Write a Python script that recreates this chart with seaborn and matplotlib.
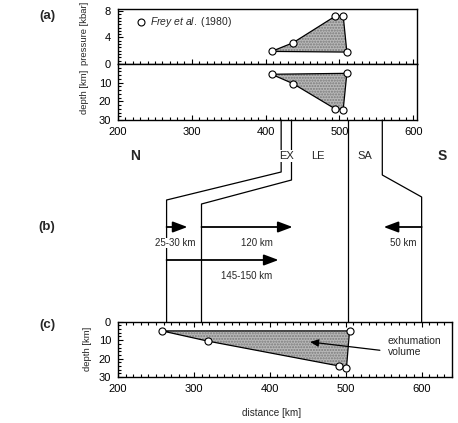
import matplotlib
matplotlib.use("Agg")
import matplotlib.pyplot as plt
from matplotlib.ticker import MultipleLocator
import seaborn as sns
import pandas as pd

# ---------------- data ----------------
# (a) present-day positions of samples (Frey et al. 1980)
a_dist = [408, 437, 494, 505, 510]
a_pressure = [1.9, 3.2, 7.2, 7.3, 1.8]
a_depth = [5.5, 10.5, 24.0, 24.5, 5.0]
# (c) restored positions
c_dist = [258, 318, 491, 501, 505]
c_depth = [5.0, 10.5, 24.0, 25.0, 5.0]
# boundaries in (a) and in (c) [km]
a_bounds = [421, 435, 512, 558]
c_bounds = [264, 310, 505, 600]
# (b) displacements: label, start [km], signed length [km], row
moves_label = ["25-30 km", "120 km", "50 km", "145-150 km"]
moves_start = [264, 310, 600, 264]
moves_len = [27.5, 120, -50, 147.5]
moves_row = [0, 0, 0, 1]
xticks = [200, 300, 400, 500, 600]

sns.set_theme(style="ticks")
plt.rcParams["font.family"] = ["Liberation Sans", "DejaVu Sans"]
plt.rcParams["mathtext.fontset"] = "custom"
plt.rcParams["mathtext.rm"] = "Liberation Sans"
plt.rcParams["mathtext.it"] = "Liberation Sans:italic"

W, H = 458, 423
fig = plt.figure(figsize=(W / 100, H / 100), dpi=100)
fig.patch.set_facecolor("white")


def box(l, t, r, b):
    return [l / W, 1 - b / H, (r - l) / W, (b - t) / H]


ax_p = fig.add_axes(box(118, 9, 417, 64))
ax_d = fig.add_axes(box(118, 64, 417, 120))
ax_c = fig.add_axes(box(118, 321.7, 452, 377))

FILL = "#b8b8b8"


def style(ax):
    for s in ax.spines.values():
        s.set_color("black")
        s.set_linewidth(1.0)
    ax.tick_params(which="both", direction="in", colors="black",
                   labelsize=8, width=0.8)
    ax.tick_params(axis="y", which="both", pad=5)
    ax.tick_params(axis="x", which="both", pad=5)
    ax.tick_params(which="major", length=3.5)
    ax.tick_params(which="minor", length=2)
    ax.xaxis.set_minor_locator(MultipleLocator(10))
    ax.set_facecolor("white")
    ax.grid(False)


def sample_poly(ax, xs, ys):
    ax.fill(xs, ys, facecolor=FILL, edgecolor="#7a7a7a", hatch="......",
            linewidth=0, zorder=1)
    ax.plot(xs + xs[:1], ys + ys[:1], color="black", lw=0.9, zorder=2)
    df = pd.DataFrame({"x": xs, "y": ys})
    sns.scatterplot(data=df, x="x", y="y", ax=ax, marker="o", s=26,
                    facecolor="white", edgecolor="black", linewidth=0.8,
                    zorder=3, legend=False)


# ---- (a) pressure ----
style(ax_p)
sample_poly(ax_p, a_dist, a_pressure)
ax_p.set_xlim(200, 605)
ax_p.set_ylim(0, 8.3)
ax_p.set_yticks([0, 4, 8])
ax_p.yaxis.set_minor_locator(MultipleLocator(0.5))
ax_p.set_xticks(xticks)
ax_p.set_xticklabels([])
ax_p.set_xlabel("")
ax_p.set_ylabel("pressure [kbar]", fontsize=6.8)
ax_p.yaxis.set_label_coords(-0.098, 0.55)
leg_handle = ax_p.plot([], [], "o", mfc="white", mec="black", ms=5, mew=0.8)[0]
ax_p.legend([leg_handle], [r"$\it{Frey\ et\ al.}$ (1980)"], loc="upper left",
            frameon=False, fontsize=7.5, handletextpad=0.3,
            borderaxespad=0.2, bbox_to_anchor=(0.035, 1.0), handlelength=1.2)

# ---- (a) depth ----
style(ax_d)
sample_poly(ax_d, a_dist, a_depth)
ax_d.set_xlim(200, 605)
ax_d.set_ylim(30, 0)
ax_d.set_yticks([10, 20, 30])
ax_d.yaxis.set_minor_locator(MultipleLocator(2))
ax_d.set_xticks(xticks)
ax_d.set_xlabel("")
ax_d.set_ylabel("depth [km]", fontsize=6.8)
ax_d.yaxis.set_label_coords(-0.098, 0.5)

# ---- (c) ----
style(ax_c)
sample_poly(ax_c, c_dist, c_depth)
ax_c.set_xlim(200, 640)
ax_c.set_ylim(30, 0)
ax_c.set_yticks([0, 10, 20, 30])
ax_c.yaxis.set_minor_locator(MultipleLocator(2))
ax_c.set_xticks(xticks)
ax_c.tick_params(which="both", top=True)
ax_c.set_xlabel("distance [km]", fontsize=7.2)
ax_c.xaxis.set_label_coords(0.46, -0.56)
ax_c.set_ylabel("depth [km]", fontsize=6.8)
ax_c.yaxis.set_label_coords(-0.078, 0.5)
ax_c.annotate("", xy=(453, 11), xytext=(545, 15.5),
              arrowprops=dict(arrowstyle="-|>,head_length=0.5,head_width=0.22",
                              color="black", lw=0.9, mutation_scale=10,
                              shrinkA=0, shrinkB=0))
ax_c.text(555, 8.0, "exhumation\nvolume", fontsize=7.5, ha="left", va="top",
          linespacing=1.1)

# ---------------- overlay (pixel coordinates) ----------------
ov = fig.add_axes([0, 0, 1, 1], zorder=5)
ov.set_xlim(0, W)
ov.set_ylim(H, 0)
ov.axis("off")
ov.patch.set_alpha(0)
fig.canvas.draw()


def px(ax, x):
    disp = ax.transData.transform((x, 0))
    return ov.transData.inverted().transform(disp)[0]


y_top_lines = 120
y_bot_lines = 321.7
kink_a = [172, 180, 160, 175]
kink_c = [200, 204, 200, 197]
for xa, xc, ka, kc in zip(a_bounds, c_bounds, kink_a, kink_c):
    pa, pc = px(ax_d, xa), px(ax_c, xc)
    if abs(pa - pc) < 4:
        ov.plot([pa, pa], [y_top_lines, y_bot_lines], color="black", lw=0.9)
    else:
        ov.plot([pa, pa, pc, pc], [y_top_lines, ka, kc, y_bot_lines],
                color="black", lw=0.9)

# region labels
lab_kw = dict(ha="center", va="center", fontsize=8,
              bbox=dict(boxstyle="square,pad=0.05", fc="white", ec="none"))
ov.text(286, 156, "EX", **lab_kw)
ov.text(318, 156, "LE", **lab_kw)
ov.text(365, 156, "SA", **lab_kw)
ov.text(135, 156, "N", ha="center", va="center", fontsize=10, fontweight="bold")
ov.text(442, 156, "S", ha="center", va="center", fontsize=10, fontweight="bold")

# panel labels
for t, y in [("(a)", 16), ("(b)", 227), ("(c)", 325)]:
    ov.text(47, y, t, ha="center", va="center", fontsize=9.5, fontweight="bold")

# (b) arrows
row_y = [227, 260]
lab_dy = 16
lab_x = {"25-30 km": 175, "50 km": 403, "120 km": 257, "145-150 km": 247}
for lab, s0, ln, r in zip(moves_label, moves_start, moves_len, moves_row):
    x0, x1 = px(ax_c, s0), px(ax_c, s0 + ln)
    y = row_y[r]
    ov.annotate("", xy=(x1, y), xytext=(x0, y),
                arrowprops=dict(arrowstyle="-|>,head_length=0.8,head_width=0.3",
                                color="black", lw=1.3, mutation_scale=11,
                                shrinkA=0, shrinkB=0))
    ov.text(lab_x[lab], y + lab_dy, lab, ha="center", va="center", fontsize=7,
            bbox=dict(boxstyle="square,pad=0.05", fc="white", ec="none"))

fig.savefig("out.png", dpi=100, facecolor="white")
